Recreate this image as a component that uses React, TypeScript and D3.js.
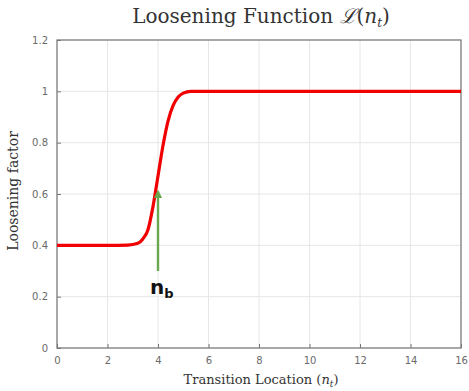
import { useEffect, useRef } from "react"
import * as d3 from "d3"

// curve points
const xs = [0, 1, 2, 2.8, 3.2, 3.4, 3.6, 3.8, 4.0, 4.2, 4.4, 4.6, 4.8, 5.0, 5.3, 6, 8, 12, 16]
const ys = [0.4, 0.4, 0.4, 0.401, 0.408, 0.425, 0.46, 0.55, 0.67, 0.79, 0.885, 0.945, 0.978, 0.993, 1.0, 1.0, 1.0, 1.0, 1.0]

const xTicks = [0, 2, 4, 6, 8, 10, 12, 14, 16]
const yTicks = [0, 0.2, 0.4, 0.6, 0.8, 1, 1.2]

// arrow marking n_b
const arrowX = 4
const arrowFrom = 0.3
const arrowTo = 0.61
const labelY = 0.21

export default function App() {
  const svgRef = useRef<SVGSVGElement | null>(null)

  useEffect(() => {
    if (!svgRef.current) return
    const svg = d3.select(svgRef.current)
    svg.selectAll("*").remove()

    const margin = { top: 40, right: 8, bottom: 43, left: 57 }
    const W = 469
    const H = 391
    const width = W - margin.left - margin.right
    const height = H - margin.top - margin.bottom

    const x = d3.scaleLinear().domain([0, 16]).range([0, width])
    const y = d3.scaleLinear().domain([0, 1.2]).range([height, 0])

    const defs = svg.append("defs")
    defs
      .append("marker")
      .attr("id", "ah")
      .attr("viewBox", "0 0 10 10")
      .attr("refX", 8)
      .attr("refY", 5)
      .attr("markerWidth", 3.5)
      .attr("markerHeight", 3.5)
      .attr("orient", "auto")
      .append("path")
      .attr("d", "M0,0L10,5L0,10Z")
      .attr("fill", "#6aa84f")

    // title
    const title = svg
      .append("text")
      .attr("x", margin.left + width / 2 + 2)
      .attr("y", 23)
      .attr("text-anchor", "middle")
      .attr("font-family", "'DejaVu Serif', serif")
      .attr("font-size", 20)
      .attr("fill", "#333")
    title.append("tspan").text("Loosening Function ")
    title.append("tspan").attr("font-style", "italic").text("ℒ")
    title.append("tspan").text("(")
    title.append("tspan").attr("font-style", "italic").text("n")
    title.append("tspan").attr("font-style", "italic").attr("font-size", 12).attr("dy", 4).text("t")
    title.append("tspan").attr("dy", -4).text(")")

    const g = svg.append("g").attr("transform", `translate(${margin.left},${margin.top})`)

    // grid
    g.append("g")
      .selectAll("line")
      .data(xTicks)
      .enter()
      .append("line")
      .attr("x1", (d) => x(d))
      .attr("x2", (d) => x(d))
      .attr("y1", 0)
      .attr("y2", height)
      .attr("stroke", "#e6e6e6")
    g.append("g")
      .selectAll("line")
      .data(yTicks)
      .enter()
      .append("line")
      .attr("y1", (d) => y(d))
      .attr("y2", (d) => y(d))
      .attr("x1", 0)
      .attr("x2", width)
      .attr("stroke", "#e6e6e6")

    // axes
    const xAxis = g
      .append("g")
      .attr("transform", `translate(0,${height})`)
      .call(d3.axisBottom(x).tickValues(xTicks).tickSize(-4).tickPadding(9).tickFormat(d3.format("d")))
    const yAxis = g
      .append("g")
      .call(d3.axisLeft(y).tickValues(yTicks).tickSize(-4).tickPadding(9).tickFormat((d) => `${d}`))
    for (const ax of [xAxis, yAxis]) {
      ax.select(".domain").remove()
      ax.selectAll("line").attr("stroke", "#777")
      ax.selectAll("text")
        .attr("fill", "#6a6a6a")
        .attr("font-size", 10)
        .attr("font-family", "'DejaVu Sans', sans-serif")
    }

    // frame
    g.append("rect")
      .attr("width", width)
      .attr("height", height)
      .attr("fill", "none")
      .attr("stroke", "#777")
      .attr("stroke-width", 1.2)

    // curve
    const pts = xs.map((v, i) => [v, ys[i]] as [number, number])
    g.append("path")
      .datum(pts)
      .attr("fill", "none")
      .attr("stroke", "#f00000")
      .attr("stroke-width", 3.2)
      .attr(
        "d",
        d3
          .line()
          .x((d) => x(d[0]))
          .y((d) => y(d[1]))
          .curve(d3.curveMonotoneX),
      )

    // arrow
    g.append("line")
      .attr("x1", x(arrowX))
      .attr("x2", x(arrowX))
      .attr("y1", y(arrowFrom))
      .attr("y2", y(arrowTo))
      .attr("stroke", "#6aa84f")
      .attr("stroke-width", 2.4)
      .attr("marker-end", "url(#ah)")

    const lbl = g
      .append("text")
      .attr("x", x(arrowX) - 8)
      .attr("y", y(labelY))
      .attr("text-anchor", "start")
      .attr("font-family", "'DejaVu Sans', sans-serif")
      .attr("font-weight", "bold")
      .attr("font-size", 20)
      .attr("fill", "#111")
    lbl.append("tspan").text("n")
    lbl.append("tspan").attr("font-size", 13).attr("dy", 4).text("b")

    // axis labels
    const xl = svg
      .append("text")
      .attr("x", margin.left + width / 2 + 2)
      .attr("y", H - 7)
      .attr("text-anchor", "middle")
      .attr("font-family", "'DejaVu Serif', serif")
      .attr("font-size", 13)
      .attr("fill", "#333")
    xl.append("tspan").text("Transition Location (")
    xl.append("tspan").attr("font-style", "italic").text("n")
    xl.append("tspan").attr("font-style", "italic").attr("font-size", 9).attr("dy", 3).text("t")
    xl.append("tspan").attr("dy", -3).text(")")

    svg
      .append("text")
      .attr("transform", `translate(18,${margin.top + height / 2 - 3}) rotate(-90)`)
      .attr("text-anchor", "middle")
      .attr("font-family", "'DejaVu Serif', serif")
      .attr("font-size", 14)
      .attr("fill", "#333")
      .text("Loosening factor")
  }, [])

  return (
    <svg
      ref={svgRef}
      width={469}
      height={391}
      style={{ position: "absolute", left: 0, top: 0, background: "#fff" }}
    ></svg>
  )
}
